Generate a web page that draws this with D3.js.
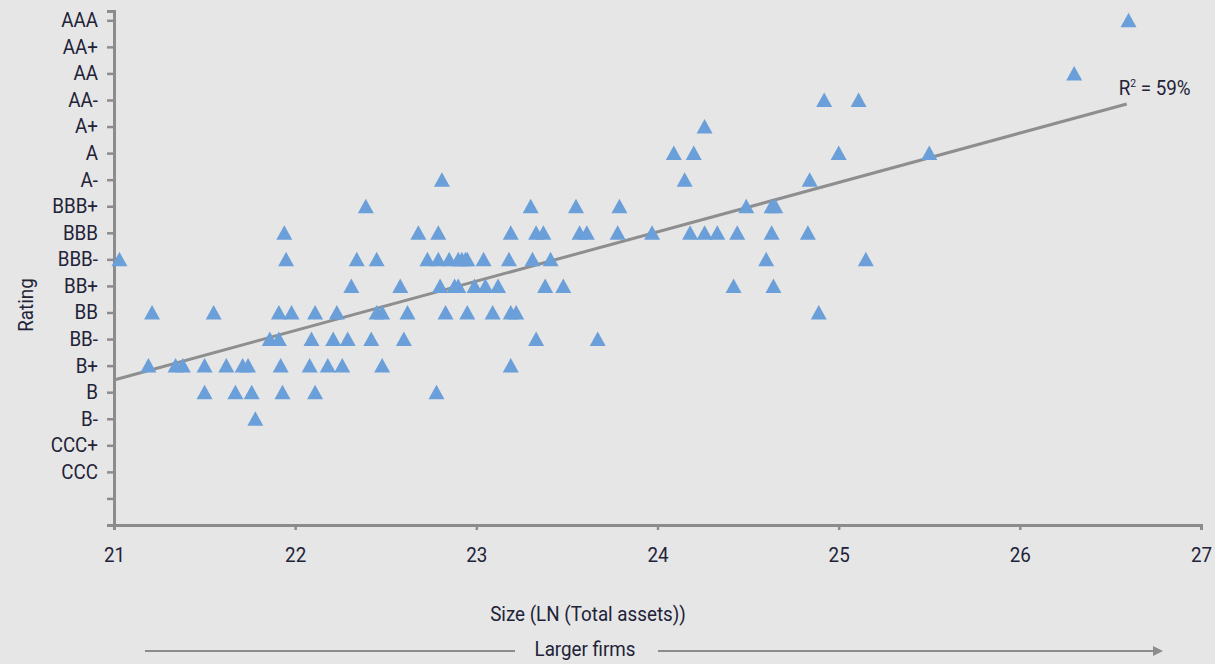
<!DOCTYPE html>
<html>
<head>
<meta charset="utf-8">
<script src="https://cdn.jsdelivr.net/npm/d3@7"></script>
<style>
  body { margin: 0; background: #e6e6e6; }
  svg text { font-family: Roboto, "Noto Sans", sans-serif; fill: #222238; }
</style>
</head>
<body>
<div id="chart"></div>
<script>
let w = 1215;
let h = 664;

// rating scale, bottom to top (first tick has no label)
let ratingLabels = ["", "CCC", "CCC+", "B-", "B", "B+", "BB-", "BB", "BB+", "BBB-", "BBB",
  "BBB+", "A-", "A", "A+", "AA-", "AA", "AA+", "AAA"];

let xTicks = [21, 22, 23, 24, 25, 26, 27];

// firm sizes (LN total assets), grouped by rating
let rowAAA = [26.60];
let rowAA = [26.30];
let rowAAminus = [24.92, 25.11];
let rowAplus = [24.26];
let rowA = [24.09, 24.20, 25.00, 25.50];
let rowAminus = [22.81, 24.15, 24.84];
let rowBBBplus = [22.39, 23.30, 23.55, 23.79, 24.49, 24.63, 24.65];
let rowBBB = [21.94, 22.68, 22.79, 23.19, 23.33, 23.37, 23.57, 23.61, 23.78, 23.97, 24.18,
  24.26, 24.33, 24.44, 24.63, 24.83];
let rowBBBminus = [21.03, 21.95, 22.34, 22.45, 22.73, 22.79, 22.85, 22.90, 22.92, 22.94,
  22.95, 23.04, 23.18, 23.31, 23.41, 24.60, 25.15];
let rowBBplus = [22.31, 22.58, 22.80, 22.88, 22.90, 22.99, 23.05, 23.12, 23.38, 23.48, 24.42, 24.64];
let rowBB = [21.21, 21.55, 21.91, 21.98, 22.11, 22.23, 22.45, 22.48, 22.62, 22.83, 22.95,
  23.09, 23.19, 23.22, 24.89];
let rowBBminus = [21.86, 21.91, 22.09, 22.21, 22.29, 22.42, 22.60, 23.33, 23.67];
let rowBplus = [21.19, 21.34, 21.38, 21.50, 21.62, 21.71, 21.74, 21.92, 22.08, 22.18, 22.26,
  22.48, 23.19];
let rowB = [21.50, 21.67, 21.76, 21.93, 22.11, 22.78];
let rowBminus = [21.78];

let rows = [
  ["AAA", rowAAA], ["AA", rowAA], ["AA-", rowAAminus], ["A+", rowAplus], ["A", rowA],
  ["A-", rowAminus], ["BBB+", rowBBBplus], ["BBB", rowBBB], ["BBB-", rowBBBminus],
  ["BB+", rowBBplus], ["BB", rowBB], ["BB-", rowBBminus], ["B+", rowBplus], ["B", rowB],
  ["B-", rowBminus]
];

// fitted trend line end points [size, rating score]
let trendStart = [21.0, 5.46];
let trendEnd = [26.59, 15.85];
let r2Text = "59%";

let points = [];
rows.forEach(r => {
  let score = ratingLabels.indexOf(r[0]) + 1;
  r[1].forEach(s => points.push([s, score]));
});

// the original uses a condensed face, so squeeze the text a little
let squeeze = 0.94;
let fontSize = "20px";

let svg = d3.select("#chart")
  .append("svg")
  .attr("width", w)
  .attr("height", h)
  .style("background-color", "#e6e6e6");

let xScale = d3.scaleLinear()
  .domain([21, 27])
  .range([114, 1201]);

let yScale = d3.scaleLinear()
  .domain([0, 19.35])
  .range([525, 11]);

let axisColor = "#8c8c8c";

// y axis
let yAxis = svg.append("g")
  .attr("transform", "translate(" + xScale(21) + ",0)")
  .call(d3.axisLeft(yScale)
    .tickValues(d3.range(0, 20))
    .tickSize(7)
    .tickPadding(8)
    .tickFormat(d => d === 0 ? "" : ratingLabels[d - 1])
  );
yAxis.select(".domain").attr("stroke", axisColor).attr("stroke-width", 3);
yAxis.selectAll(".tick line").attr("stroke", axisColor).attr("stroke-width", 2.5);
yAxis.selectAll(".tick text")
  .style("font-size", fontSize)
  .attr("fill", "#222238")
  .attr("x", -16 / squeeze)
  .attr("transform", "scale(" + squeeze + ",1)");

// x axis
let xAxis = svg.append("g")
  .attr("transform", "translate(0," + yScale(0) + ")")
  .call(d3.axisBottom(xScale)
    .tickValues(xTicks)
    .tickSize(5)
    .tickPadding(18)
    .tickFormat(d3.format("d"))
  );
xAxis.select(".domain").attr("stroke", axisColor).attr("stroke-width", 3);
xAxis.selectAll(".tick line").attr("stroke", axisColor).attr("stroke-width", 2.5);
xAxis.selectAll(".tick text")
  .style("font-size", fontSize)
  .attr("fill", "#222238")
  .attr("transform", "scale(" + squeeze + ",1)");

// trend line
svg.append("line")
  .attr("x1", xScale(trendStart[0]))
  .attr("y1", yScale(trendStart[1]))
  .attr("x2", xScale(trendEnd[0]))
  .attr("y2", yScale(trendEnd[1]))
  .attr("stroke", "#8e8e8e")
  .attr("stroke-width", 3);

// triangles
svg.append("g")
  .selectAll("path")
  .data(points)
  .join("path")
  .attr("transform", d => "translate(" + xScale(d[0]) + "," + yScale(d[1]) + ")")
  .attr("d", "M0,-7.5L8,7L-8,7Z")
  .attr("fill", "#6a9fd9");

// R2 label
let r2 = svg.append("text")
  .attr("transform", "translate(" + (xScale(trendEnd[0]) - 8) + "," + (yScale(trendEnd[1]) - 9)
    + ") scale(" + squeeze + ",1)")
  .style("font-size", fontSize);
r2.append("tspan").text("R");
r2.append("tspan").text("2").style("font-size", "11px").attr("dy", -8);
r2.append("tspan").text(" = " + r2Text).attr("dy", 8);

// axis titles
function label(x, y, txt, rot) {
  return svg.append("text")
    .attr("transform", "translate(" + x + "," + y + ")" + (rot ? " rotate(-90)" : "")
      + " scale(" + squeeze + ",1)")
    .attr("text-anchor", "middle")
    .style("font-size", fontSize)
    .text(txt);
}

label(588, 621, "Size (LN (Total assets))", false);
label(33, 305, "Rating", true);
label(585, 656, "Larger firms", false);

// arrow under the axis title
svg.append("defs").append("marker")
  .attr("id", "arrow")
  .attr("viewBox", "0 0 10 10")
  .attr("refX", 5)
  .attr("refY", 5)
  .attr("markerWidth", 5)
  .attr("markerHeight", 5)
  .attr("orient", "auto")
  .append("path")
  .attr("d", "M0,0L10,5L0,10Z")
  .attr("fill", axisColor);

svg.append("line")
  .attr("x1", 145).attr("x2", 515)
  .attr("y1", 651).attr("y2", 651)
  .attr("stroke", axisColor)
  .attr("stroke-width", 2);

svg.append("line")
  .attr("x1", 658).attr("x2", 1158)
  .attr("y1", 651).attr("y2", 651)
  .attr("stroke", axisColor)
  .attr("stroke-width", 2)
  .attr("marker-end", "url(#arrow)");
</script>
</body>
</html>
